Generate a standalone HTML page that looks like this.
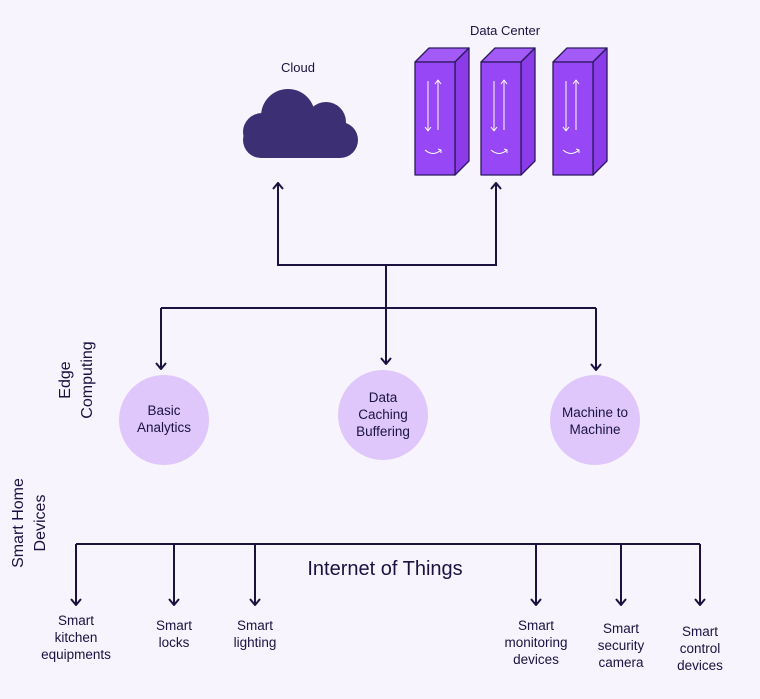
<!DOCTYPE html>
<html><head><style>
body{margin:0;background:#f8f4fe;}
svg{display:block;font-family:"Liberation Sans",sans-serif;}
</style></head><body>
<svg width="760" height="699" viewBox="0 0 760 699">
<rect width="760" height="699" fill="#f8f4fe"/>
<defs>
<marker id="a" viewBox="0 0 12 12" refX="11" refY="6" markerWidth="12" markerHeight="12" markerUnits="userSpaceOnUse" orient="auto-start-reverse">
<path d="M5,1 L11,6 L5,11" fill="none" stroke="#1a1240" stroke-width="2"/>
</marker>
</defs>
<text x="298" y="72" font-size="13" text-anchor="middle" fill="#1a1240">Cloud</text>
<text x="505" y="35" font-size="13" text-anchor="middle" fill="#1a1240">Data Center</text>
<!-- cloud -->
<g fill="#3d2f74">
<rect x="243" y="122" width="115" height="36" rx="18"/>
<circle cx="288" cy="116" r="27"/>
<circle cx="326" cy="122" r="20"/>
<circle cx="262" cy="132" r="19"/>
</g>
<!-- data center -->
<g stroke="#2a1a5e" stroke-width="1.3" stroke-linejoin="round">
<g id="s">
<path d="M415,62 L429,48 L469,48 L455,62 Z" fill="#a35af7"/>
<path d="M455,62 L469,48 L469,161 L455,175 Z" fill="#8b3ce8"/>
<rect x="415" y="62" width="40" height="113" fill="#9747f5"/>
<g stroke="#fff" stroke-width="1" fill="none">
<line x1="428" y1="81" x2="428" y2="130"/><path d="M425,127 L428,131 L431,127"/>
<line x1="438" y1="81" x2="438" y2="130"/><path d="M435,84 L438,80 L441,84"/>
<path d="M425,150 Q433,157 441,150 M438,149 L441,150 L441,153"/>
</g>
</g>
<use href="#s" x="66"/>
<use href="#s" x="138"/>
</g>
<!-- connectors -->
<g stroke="#1a1240" stroke-width="2" fill="none">
<polyline points="278,183 278,265 496,265 496,183" marker-start="url(#a)" marker-end="url(#a)"/>
<line x1="386" y1="265" x2="386" y2="308"/>
<line x1="161" y1="308" x2="596" y2="308"/>
<line x1="161" y1="308" x2="161" y2="369" marker-end="url(#a)"/>
<line x1="386" y1="308" x2="386" y2="364" marker-end="url(#a)"/>
<line x1="596" y1="308" x2="596" y2="370" marker-end="url(#a)"/>
<line x1="76" y1="544" x2="700" y2="544"/>
<line x1="76" y1="544" x2="76" y2="605" marker-end="url(#a)"/>
<line x1="174" y1="544" x2="174" y2="605" marker-end="url(#a)"/>
<line x1="255" y1="544" x2="255" y2="605" marker-end="url(#a)"/>
<line x1="536" y1="544" x2="536" y2="605" marker-end="url(#a)"/>
<line x1="621" y1="544" x2="621" y2="605" marker-end="url(#a)"/>
<line x1="700" y1="544" x2="700" y2="605" marker-end="url(#a)"/>
</g>
<g fill="#dfc7fb">
<circle cx="164" cy="420" r="45"/>
<circle cx="383" cy="415" r="45"/>
<circle cx="595" cy="420" r="45"/>
</g>
<g font-size="13.5" text-anchor="middle" fill="#1a1240">
<text x="164" y="415">Basic</text><text x="164" y="432">Analytics</text>
<text x="383" y="402">Data</text><text x="383" y="419">Caching</text><text x="383" y="436">Buffering</text>
<text x="595" y="417">Machine to</text><text x="595" y="434">Machine</text>
<text x="76" y="625">Smart</text><text x="76" y="642">kitchen</text><text x="76" y="659">equipments</text>
<text x="174" y="630">Smart</text><text x="174" y="647">locks</text>
<text x="255" y="630">Smart</text><text x="255" y="647">lighting</text>
<text x="536" y="630">Smart</text><text x="536" y="647">monitoring</text><text x="536" y="664">devices</text>
<text x="621" y="633">Smart</text><text x="621" y="650">security</text><text x="621" y="667">camera</text>
<text x="700" y="636">Smart</text><text x="700" y="653">control</text><text x="700" y="670">devices</text>
</g>
<text x="385" y="575" font-size="20" text-anchor="middle" fill="#1a1240">Internet of Things</text>
<g font-size="16" text-anchor="middle" fill="#1a1240">
<text transform="translate(70,380) rotate(-90)">Edge</text>
<text transform="translate(92,380) rotate(-90)">Computing</text>
<text transform="translate(23,523) rotate(-90)">Smart Home</text>
<text transform="translate(45,523) rotate(-90)">Devices</text>
</g>
</svg>
</body></html>
